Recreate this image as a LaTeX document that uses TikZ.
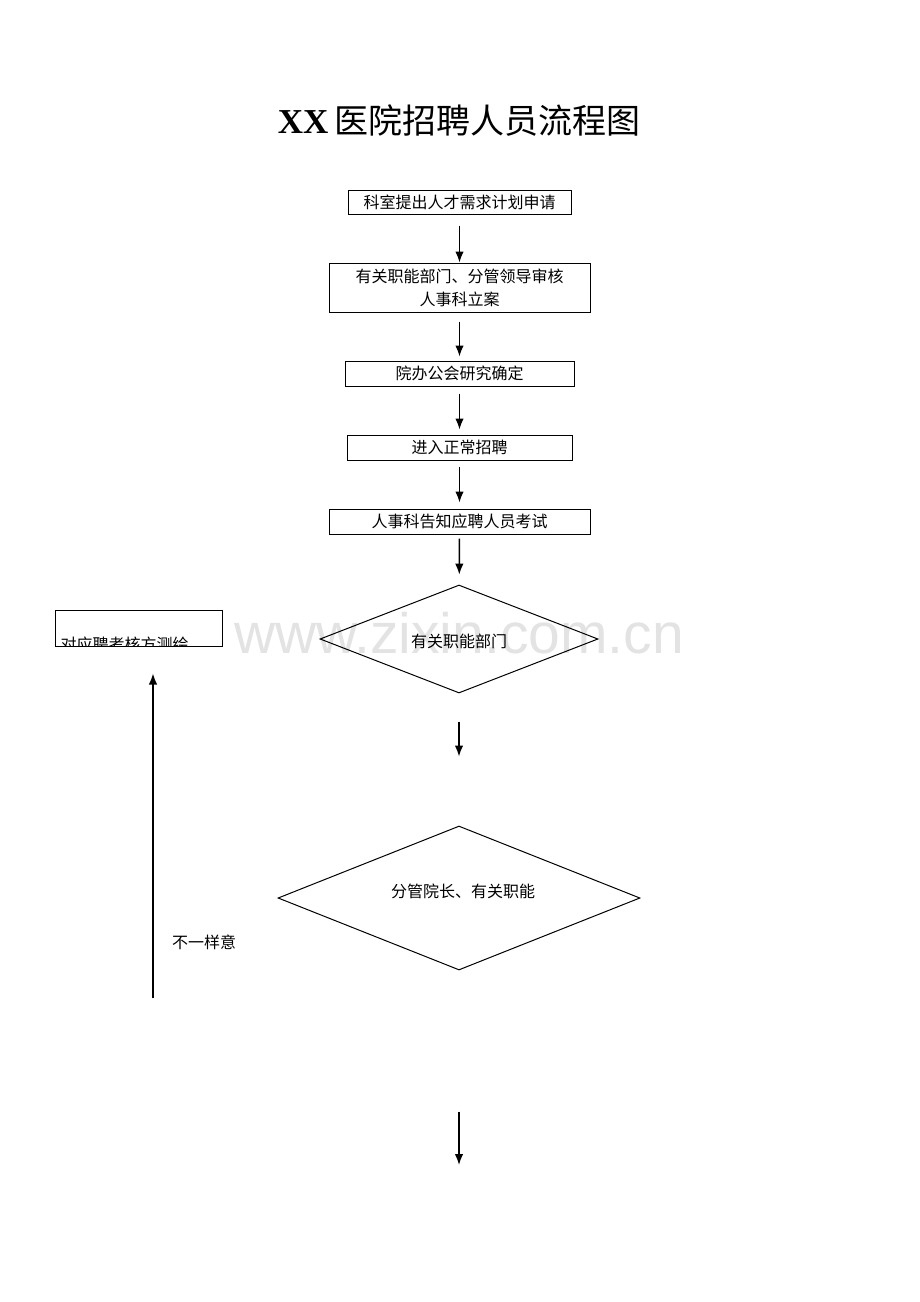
\documentclass[tikz,border=0pt]{standalone}
\usepackage{fontspec}
\setmainfont{Liberation Serif}
\newfontfamily\cjk{Noto Sans CJK SC}
\newfontfamily\markfont{Liberation Sans}
\usetikzlibrary{arrows, shapes, positioning, shapes.geometric, arrows.meta, calc}

\begin{document}
\begin{tikzpicture}[x=1pt, y=-1pt, >={Latex[length=11pt,width=8.5pt]}, line width=1pt,
				Step/.style={
				draw,
				rectangle,
				inner sep=0pt,
				font=\cjk\fontsize{16}{23}\selectfont,
				align=center},
				Choice/.style={
				draw,
				diamond,
				inner sep=0pt},
				Link/.style={->, line width=1.5pt},
				Txt/.style={font=\cjk\fontsize{16}{20}\selectfont}]
				\useasboundingbox (0,0) rectangle (920,1302);
				% watermark
				\node[text=black!11, font=\markfont\fontsize{57}{60}\selectfont, anchor=base] (mark) at (459,653) {www.zixin.com.cn};
				% title
				\node[anchor=base] (title) at (459,133) {\fontsize{35}{40}\selectfont\textbf{XX}\,\cjk\fontsize{34}{40}\selectfont 医院招聘人员流程图};
				% main column
				\node[Step, minimum width=223, minimum height=24] (apply) at (459.5,202) {科室提出人才需求计划申请};
				\node[Step, minimum width=261, minimum height=49] (review) at (459.5,287.5) {有关职能部门、分管领导审核\\人事科立案};
				\node[Step, minimum width=229, minimum height=25] (meeting) at (459.5,373.5) {院办公会研究确定};
				\node[Step, minimum width=225, minimum height=25] (recruit) at (459.5,447.5) {进入正常招聘};
				\node[Step, minimum width=261, minimum height=25] (notify) at (459.5,521.5) {人事科告知应聘人员考试};
				\node[Choice, minimum width=278, minimum height=108] (dept) at (459,639) {};
				\node[Txt] (depttext) at (459,641) {有关职能部门};
				\node[Choice, minimum width=362, minimum height=144] (leader) at (459,898) {};
				\node[Txt] (leadertext) at (463,891) {分管院长、有关职能};
				\coordinate (final) at (459,1165);
				% left side
				\node[Step, minimum width=167, minimum height=36] (comment) at (138.5,628) {};
				\begin{scope}
				\clip (comment.south west) rectangle (comment.north east);
				\node[Txt, anchor=base west, inner sep=0pt] (commenttext) at (60,650) {对应聘考核方测绘};
				\end{scope}
				\coordinate (back) at (153,998);
				\node[Txt] (disagree) at (204,942) {不一样意};
				% arrows
				\draw[Link, shorten <=11pt] (apply) -- (review);
				\draw[Link, shorten <=9pt, shorten >=4pt] (review) -- (meeting);
				\draw[Link, shorten <=7pt, shorten >=5pt] (meeting) -- (recruit);
				\draw[Link, shorten <=6pt, shorten >=6pt] (recruit) -- (notify);
				\draw[Link, shorten <=4pt, shorten >=10pt] (notify) -- (dept);
				\draw[Link, shorten <=28pt, shorten >=69pt] (dept) -- (leader);
				\draw[Link, shorten <=141pt] (leader.south) -- (final);
				\draw[Link, shorten >=27pt] (back) -- (back |- comment.south);
			\end{tikzpicture}
\end{document}
